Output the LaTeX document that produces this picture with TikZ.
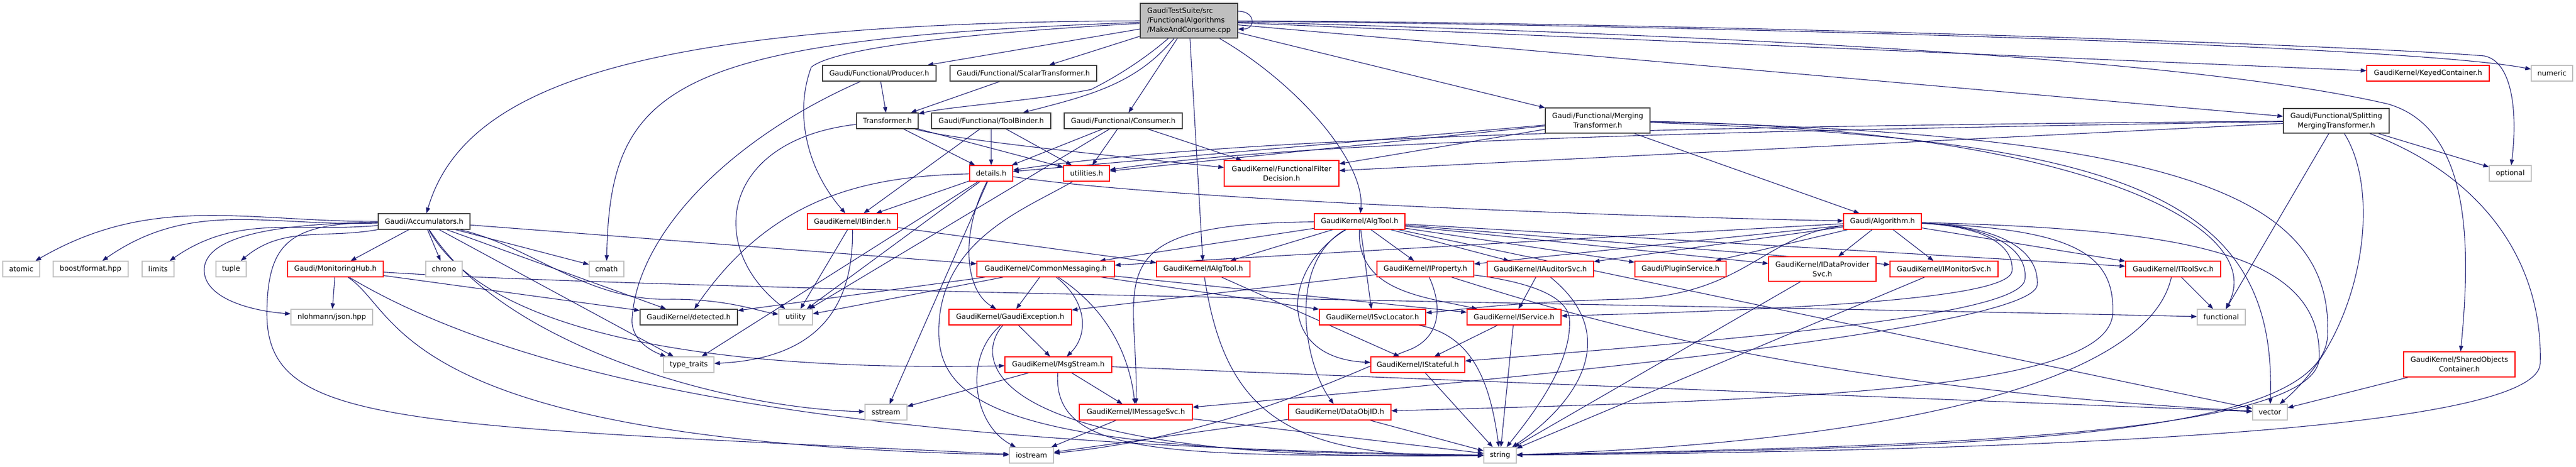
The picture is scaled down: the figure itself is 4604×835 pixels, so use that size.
\documentclass[tikz,border=0pt]{standalone}
\usepackage{fontspec}
\setmainfont{DejaVu Sans}
\usetikzlibrary{arrows.meta}
\definecolor{edgec}{RGB}{25,25,112}
\definecolor{boxk}{RGB}{64,64,64}
\definecolor{boxr}{RGB}{255,0,0}
\definecolor{boxg}{RGB}{191,191,191}
\definecolor{rootfill}{RGB}{191,191,191}
\newcommand\ndfont{\fontsize{12.7pt}{17pt}\selectfont}
\pgfdeclarelayer{edgelayer}
\pgfsetlayers{edgelayer,main}
\begin{document}
\begin{tikzpicture}[x=1pt,y=-1pt,
  nd/.style={rectangle,inner sep=0pt,minimum height=28pt,font=\ndfont,line width=1.3pt,align=center,text=black,fill=white},
  kb/.style={nd,draw=boxk},
  rb/.style={nd,draw=boxr},
  gb/.style={nd,draw=boxg},
  lnk/.style={draw=edgec,line width=1.1pt,-{Triangle[length=10pt,width=7.5pt]}}]
\useasboundingbox (0,0) rectangle (4604,835);

% row 0
\node[kb,fill=rootfill,minimum width=174pt,minimum height=62pt,align=left] (mac) at (2125,37) {GaudiTestSuite/src\\/FunctionalAlgorithms\\/MakeAndConsume.cpp};
% row 1
\node[kb,minimum width=203pt] (producer) at (1571.5,131) {Gaudi/Functional/Producer.h};
\node[kb,minimum width=262pt] (scalar) at (1829,131) {Gaudi/Functional/ScalarTransformer.h};
\node[rb,minimum width=219pt] (keyed) at (4339.5,131) {GaudiKernel/KeyedContainer.h};
\node[gb,minimum width=74pt] (numeric) at (4561,131) {numeric};
% row 2
\node[kb,minimum width=110pt] (transformer) at (1586,216) {Transformer.h};
\node[kb,minimum width=213pt] (toolbinder) at (1771.5,216) {Gaudi/Functional/ToolBinder.h};
\node[kb,minimum width=211pt] (consumer) at (2007.5,216) {Gaudi/Functional/Consumer.h};
\node[kb,minimum width=187pt,minimum height=45pt] (merging) at (2855.5,215.5) {Gaudi/Functional/Merging\\Transformer.h};
\node[kb,minimum width=189pt,minimum height=44pt] (splitting) at (4175.5,216) {Gaudi/Functional/Splitting\\MergingTransformer.h};
% row 2b
\node[rb,minimum width=77pt] (details) at (1771.5,310) {details.h};
\node[rb,minimum width=82pt] (utilities) at (1942,310) {utilities.h};
\node[rb,minimum width=205pt,minimum height=46pt] (ffd) at (2290.5,310) {GaudiKernel/FunctionalFilter\\Decision.h};
\node[gb,minimum width=75pt] (optional) at (4486.5,310) {optional};
% row 3
\node[kb,minimum width=164pt] (acc) at (758,396) {Gaudi/Accumulators.h};
\node[rb,minimum width=161pt] (ibinder) at (1523.5,396) {GaudiKernel/IBinder.h};
\node[rb,minimum width=162pt] (algtool) at (2430,396) {GaudiKernel/AlgTool.h};
\node[rb,minimum width=139pt] (algorithm) at (3364.5,396) {Gaudi/Algorithm.h};
% row 4
\node[gb,minimum width=66pt] (atomic) at (38,481) {atomic};
\node[gb,minimum width=134pt] (boost) at (162,481) {boost/format.hpp};
\node[gb,minimum width=57pt] (limits) at (282.5,481) {limits};
\node[gb,minimum width=54pt] (tuple) at (413,481) {tuple};
\node[rb,minimum width=171pt] (monhub) at (599.5,481) {Gaudi/MonitoringHub.h};
\node[gb,minimum width=65pt] (chrono) at (793.5,481) {chrono};
\node[gb,minimum width=62pt] (cmath) at (1084,481) {cmath};
\node[rb,minimum width=246pt] (commonmsg) at (1869,481) {GaudiKernel/CommonMessaging.h};
\node[rb,minimum width=167pt] (ialgtool) at (2150.5,481) {GaudiKernel/IAlgTool.h};
\node[rb,minimum width=173pt] (iproperty) at (2547.5,481) {GaudiKernel/IProperty.h};
\node[rb,minimum width=190pt] (iauditorsvc) at (2753,481) {GaudiKernel/IAuditorSvc.h};
\node[rb,minimum width=163pt] (plugin) at (3003.5,481) {Gaudi/PluginService.h};
\node[rb,minimum width=192pt,minimum height=44pt] (idp) at (3257,481) {GaudiKernel/IDataProvider\\Svc.h};
\node[rb,minimum width=193pt] (imonitorsvc) at (3474.5,481) {GaudiKernel/IMonitorSvc.h};
\node[rb,minimum width=170pt] (itoolsvc) at (3884,481) {GaudiKernel/IToolSvc.h};
% row 5
\node[gb,minimum width=146pt] (nlohmann) at (593,567) {nlohmann/json.hpp};
\node[kb,minimum width=174pt] (detected) at (1231,567) {GaudiKernel/detected.h};
\node[gb,minimum width=60pt] (utility) at (1422,567) {utility};
\node[rb,minimum width=219pt] (gaudiexc) at (1805.5,567) {GaudiKernel/GaudiException.h};
\node[rb,minimum width=190pt] (isvclocator) at (2453,567) {GaudiKernel/ISvcLocator.h};
\node[rb,minimum width=168pt] (iservice) at (2706,567) {GaudiKernel/IService.h};
\node[gb,minimum width=86pt] (functional) at (3970,567) {functional};
% row 6
\node[gb,minimum width=90pt] (typetraits) at (1231,652) {type\_traits};
\node[rb,minimum width=191pt] (msgstream) at (1891.5,652) {GaudiKernel/MsgStream.h};
\node[rb,minimum width=168pt] (istateful) at (2534,652) {GaudiKernel/IStateful.h};
\node[rb,minimum width=199pt,minimum height=45pt] (shared) at (4395.5,651.5) {GaudiKernel/SharedObjects\\Container.h};
% row 7
\node[gb,minimum width=75pt] (sstream) at (1583.5,737) {sstream};
\node[rb,minimum width=202pt] (imessagesvc) at (2030,737) {GaudiKernel/IMessageSvc.h};
\node[rb,minimum width=183pt] (dataobjid) at (2394.5,737) {GaudiKernel/DataObjID.h};
\node[gb,minimum width=62pt] (vector) at (4057,737) {vector};
% row 8
\node[gb,minimum width=79pt] (iostream) at (1843.5,814) {iostream};
\node[gb,minimum width=58pt] (string) at (2681,814) {string};

\begin{pgfonlayer}{edgelayer}
\fill[white] (0,0) rectangle (4604,835);
% root
\draw[lnk] (mac) .. controls (1150,40) and (830,150) .. (acc);
\draw[lnk] (mac) -- (producer);
\draw[lnk] (mac) -- (scalar);
\draw[lnk] (mac) .. controls (2040,110) and (1990,140) .. (1950,160) .. controls (1850,180) and (1700,190) .. (transformer);
\draw[lnk] (mac) .. controls (2030,150) and (1950,170) .. (toolbinder);
\draw[lnk] (mac) -- (consumer);
\draw[lnk] (mac) -- (ialgtool);
\draw[lnk] (mac) .. controls (2320,150) and (2440,290) .. (algtool);
\draw[lnk] (mac) .. controls (1800,55) and (1500,80) .. (1450,120) .. controls (1420,200) and (1440,300) .. (ibinder);
\draw[lnk] (mac) .. controls (1200,70) and (1090,150) .. (cmath);
\draw[lnk] (mac) -- (merging);
\draw[lnk] (mac) -- (splitting);
\draw[lnk] (mac) -- (keyed);
\draw[lnk] (mac) .. controls (3000,45) and (4300,80) .. (numeric);
\draw[lnk] (mac) .. controls (3000,40) and (4200,80) .. (4440,100) .. controls (4490,110) and (4500,200) .. (optional);
\draw[lnk] (mac) .. controls (3000,60) and (3900,100) .. (4268,186) .. controls (4420,230) and (4415,450) .. (shared);
\draw[lnk] ([yshift=17pt]mac.east) .. controls +(32,0) and +(32,0) .. ([yshift=-15pt]mac.east);
% producer, scalar
\draw[lnk] (producer) -- (transformer);
\draw[lnk] (producer) .. controls (1300,250) and (1140,420) .. (1130,567) .. controls (1125,610) and (1170,630) .. (typetraits);
\draw[lnk] (scalar) -- (transformer);
% transformer
\draw[lnk] (transformer) -- (details);
\draw[lnk] (transformer) -- (utilities);
\draw[lnk] (transformer) .. controls (1700,250) and (2000,280) .. (ffd);
\draw[lnk] (transformer) .. controls (1290,250) and (1260,440) .. (utility);
% toolbinder, consumer
\draw[lnk] (toolbinder) -- (ibinder);
\draw[lnk] (toolbinder) -- (details);
\draw[lnk] (toolbinder) -- (utilities);
\draw[lnk] (consumer) -- (details);
\draw[lnk] (consumer) -- (utilities);
\draw[lnk] (consumer) -- (ffd);
\draw[lnk] (consumer) -- (utility);
% details
\draw[lnk] (details) .. controls (2100,360) and (3000,390) .. (algorithm);
\draw[lnk] (details) -- (ibinder);
\draw[lnk] (details) .. controls (1550,315) and (1380,350) .. (detected);
\draw[lnk] (details) .. controls (1715,420) and (1725,520) .. (gaudiexc);
\draw[lnk] (details) -- (sstream);
\draw[lnk] (details) -- (typetraits);
\draw[lnk] (details) -- (utility);
% utilities
\draw[lnk] (utilities) .. controls (1840,370) and (1700,420) .. (1680,560) .. controls (1660,720) and (1760,810) .. (string);
% accumulators
\draw[lnk] (acc) to[out=180,in=30] (atomic);
\draw[lnk] (acc) to[out=182,in=35] (boost);
\draw[lnk] (acc) to[out=185,in=35] (limits);
\draw[lnk] (acc) to[out=190,in=40] (tuple);
\draw[lnk] (acc) -- (monhub);
\draw[lnk] (acc) -- (chrono);
\draw[lnk] (acc) -- (cmath);
\draw[lnk] (acc) .. controls (500,400) and (370,420) .. (365,480) .. controls (362,530) and (440,555) .. (nlohmann);
\draw[lnk] (acc) .. controls (520,400) and (478,430) .. (477,560) .. controls (477,760) and (700,760) .. (iostream);
\draw[lnk] (acc) -- (detected);
\draw[lnk] (acc) -- (typetraits);
\draw[lnk] (acc) .. controls (950,440) and (1050,540) .. (1200,535) .. controls (1300,535) and (1350,555) .. (utility);
\draw[lnk] (acc) .. controls (900,620) and (1300,730) .. (sstream);
\draw[lnk] (acc) -- (commonmsg);
\draw[lnk] (acc) .. controls (900,650) and (1500,660) .. (msgstream);
% monitoring hub
\draw[lnk] (monhub) -- (nlohmann);
\draw[lnk] (monhub) -- (detected);
\draw[lnk] (monhub) .. controls (1200,520) and (3000,545) .. (functional);
\draw[lnk] (monhub) .. controls (720,560) and (700,790) .. (iostream);
\draw[lnk] (monhub) .. controls (1000,720) and (1700,800) .. (string);
% ibinder
\draw[lnk] (ibinder) -- (ialgtool);
\draw[lnk] (ibinder) -- (utility);
\draw[lnk] (ibinder) .. controls (1525,530) and (1480,640) .. (typetraits);
% common messaging
\draw[lnk] (commonmsg) -- (gaudiexc);
\draw[lnk] (commonmsg) .. controls (1945,540) and (1945,600) .. (msgstream);
\draw[lnk] (commonmsg) .. controls (1990,560) and (2020,650) .. (imessagesvc);
\draw[lnk] (commonmsg) -- (isvclocator);
\draw[lnk] (commonmsg) -- (iservice);
\draw[lnk] (commonmsg) -- (detected);
\draw[lnk] (commonmsg) -- (utility);
% gaudi exception
\draw[lnk] (gaudiexc) -- (msgstream);
\draw[lnk] (gaudiexc) .. controls (1720,640) and (1740,760) .. (iostream);
\draw[lnk] (gaudiexc) .. controls (1740,640) and (1740,830) .. (string);
% msgstream
\draw[lnk] (msgstream) -- (sstream);
\draw[lnk] (msgstream) -- (imessagesvc);
\draw[lnk] (msgstream) .. controls (1880,820) and (2100,815) .. (string);
\draw[lnk] (msgstream) -- (vector);
% lower
\draw[lnk] (imessagesvc) -- (iostream);
\draw[lnk] (imessagesvc) -- (string);
\draw[lnk] (dataobjid) -- (iostream);
\draw[lnk] (dataobjid) -- (string);
\draw[lnk] (ialgtool) -- (istateful);
\draw[lnk] (ialgtool) .. controls (2190,740) and (2300,820) .. (string);
\draw[lnk] (iproperty) -- (gaudiexc);
\draw[lnk] (iproperty) .. controls (2575,540) and (2580,600) .. (2520,625) .. controls (2450,650) and (2200,780) .. (iostream);
\draw[lnk] (iproperty) .. controls (2700,500) and (2800,520) .. (2805,570) .. controls (2810,650) and (2740,740) .. (string);
\draw[lnk] (iproperty) .. controls (2800,560) and (3200,690) .. (vector);
\draw[lnk] (iauditorsvc) -- (iservice);
\draw[lnk] (iauditorsvc) .. controls (2900,600) and (2820,720) .. (string);
\draw[lnk] (iservice) -- (istateful);
\draw[lnk] (iservice) -- (string);
\draw[lnk] (isvclocator) .. controls (2640,600) and (2665,700) .. (string);
\draw[lnk] (istateful) -- (string);
\draw[lnk] (idp) -- (string);
\draw[lnk] (imonitorsvc) -- (string);
\draw[lnk] (itoolsvc) -- (functional);
\draw[lnk] (itoolsvc) .. controls (3840,680) and (3400,790) .. (string);
\draw[lnk] (shared) -- (vector);
% algtool
\draw[lnk] (algtool) -- (commonmsg);
\draw[lnk] (algtool) -- (ialgtool);
\draw[lnk] (algtool) -- (iproperty);
\draw[lnk] (algtool) -- (iauditorsvc);
\draw[lnk] (algtool) -- (plugin);
\draw[lnk] (algtool) -- (idp);
\draw[lnk] (algtool) -- (imonitorsvc);
\draw[lnk] (algtool) -- (itoolsvc);
\draw[lnk] (algtool) -- (isvclocator);
\draw[lnk] (algtool) .. controls (2425,520) and (2540,530) .. (iservice);
\draw[lnk] (algtool) .. controls (2290,480) and (2280,640) .. (istateful);
\draw[lnk] (algtool) .. controls (1950,400) and (2035,500) .. (imessagesvc);
\draw[lnk] (algtool) .. controls (2300,470) and (2330,650) .. (dataobjid);
\draw[lnk] (algtool) -- (vector);
% algorithm
\draw[lnk] (algorithm) -- (commonmsg);
\draw[lnk] (algorithm) -- (iproperty);
\draw[lnk] (algorithm) -- (iauditorsvc);
\draw[lnk] (algorithm) -- (plugin);
\draw[lnk] (algorithm) -- (idp);
\draw[lnk] (algorithm) -- (imonitorsvc);
\draw[lnk] (algorithm) -- (itoolsvc);
\draw[lnk] (algorithm) .. controls (3150,420) and (3120,530) .. (2900,535) .. controls (2700,540) and (2600,555) .. (isvclocator);
\draw[lnk] (algorithm) .. controls (3550,405) and (3600,440) .. (3596,485) .. controls (3590,525) and (3350,550) .. (iservice);
\draw[lnk] (algorithm) .. controls (3570,405) and (3625,450) .. (3619,500) .. controls (3610,560) and (3200,600) .. (istateful);
\draw[lnk] (algorithm) .. controls (3590,405) and (3645,455) .. (3641,510) .. controls (3630,580) and (2900,660) .. (imessagesvc);
\draw[lnk] (algorithm) .. controls (3700,410) and (3780,450) .. (3776,560) .. controls (3770,700) and (3200,715) .. (dataobjid);
\draw[lnk] (algorithm) .. controls (3900,410) and (4150,450) .. (4145,640) .. controls (4140,790) and (3300,800) .. (string);
% merging
\draw[lnk] (merging) -- (algorithm);
\draw[lnk] (merging) -- (details);
\draw[lnk] (merging) -- (utilities);
\draw[lnk] (merging) -- (ffd);
\draw[lnk] (merging) .. controls (3700,230) and (4060,400) .. (functional);
\draw[lnk] (merging) .. controls (3800,250) and (4070,350) .. (vector);
\draw[lnk] (merging) .. controls (3900,240) and (4170,350) .. (4160,600) .. controls (4150,790) and (3500,800) .. (string);
% splitting
\draw[lnk] (splitting) .. controls (3000,225) and (2200,245) .. (details);
\draw[lnk] (splitting) .. controls (3000,235) and (2300,255) .. (utilities);
\draw[lnk] (splitting) -- (ffd);
\draw[lnk] (splitting) -- (functional);
\draw[lnk] (splitting) .. controls (4260,350) and (4220,600) .. (vector);
\draw[lnk] (splitting) -- (optional);
\draw[lnk] (splitting) .. controls (4450,320) and (4545,480) .. (4540,650) .. controls (4535,760) and (3800,805) .. (string);
\end{pgfonlayer}
\end{tikzpicture}
\end{document}
